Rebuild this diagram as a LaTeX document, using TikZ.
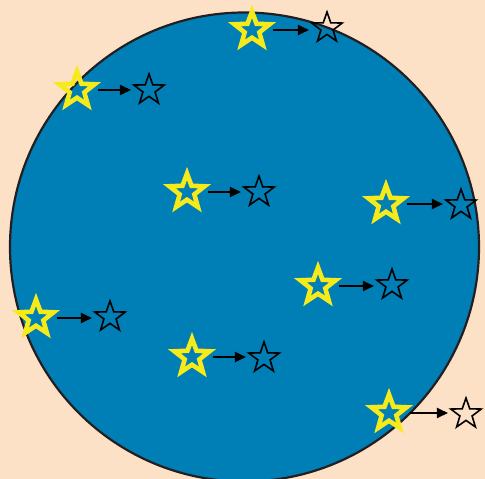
\documentclass[tikz,border=0pt]{standalone}
\usepackage{tikz}
\usetikzlibrary{arrows.meta, positioning, shapes.geometric}
\usepackage{xcolor}
\definecolor{peach}{RGB}{253,225,198}
\definecolor{seablue}{RGB}{0,126,182}
\definecolor{staryellow}{RGB}{246,234,26}
\definecolor{rimgray}{RGB}{35,31,32}

\begin{document}
\begin{tikzpicture}[x=1pt, y=-1pt,
  ystar/.style={star, star points=5, star point ratio=2.4, minimum size=37pt, inner sep=0pt, draw=staryellow, line width=4.6pt},
  ostar/.style={star, star points=5, star point ratio=2.5, minimum size=32pt, inner sep=0pt, draw=black, line width=1.6pt},
  mv/.style={-{Triangle[length=11pt, width=10pt]}, line width=2pt, shorten <=7pt, shorten >=8pt}]
  \fill[peach] (0,0) rectangle (485,479);
  \useasboundingbox (0,0) rectangle (485,479);
  \draw[rimgray, line width=2.2pt, fill=seablue] (244.5,247) circle (234.5);
  % moving stars
  \foreach \i/\xa/\ya/\xb/\yb in {1/252/30/327/28, 2/77/90/149/90, 3/187/192/259/192, 4/386/204/461/205,
                                  5/318/286/392/285, 6/36/318/110/317, 7/192/357/264/358, 8/389/413/466/414} {
    \node[ystar] (y\i) at (\xa,\ya) {};
    \node[ostar] (o\i) at (\xb,\yb) {};
    \draw[mv] (y\i.east) -- (y\i.east -| o\i.west);
  }
\end{tikzpicture}
\end{document}
